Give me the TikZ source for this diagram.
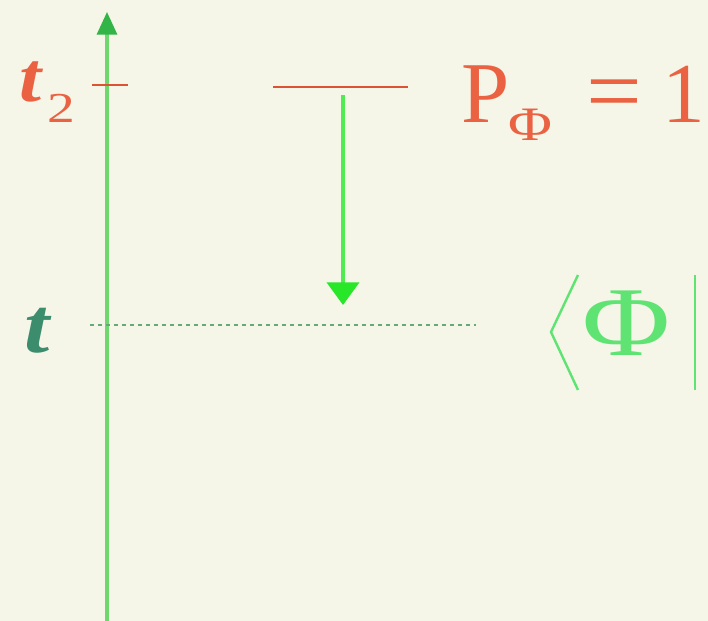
\documentclass[tikz,border=0pt]{standalone}
\usepackage{fontspec}
\setmainfont{Liberation Serif}
\usetikzlibrary{arrows.meta}
\definecolor{bg}{RGB}{245,245,232}
\definecolor{axisgreen}{RGB}{110,215,110}
\definecolor{axishead}{RGB}{50,180,70}
\definecolor{arrgreen}{RGB}{80,235,80}
\definecolor{arrhead}{RGB}{40,230,40}
\definecolor{redtxt}{RGB}{234,98,66}
\definecolor{redline}{RGB}{222,82,52}
\definecolor{dashgreen}{RGB}{100,170,120}
\definecolor{tgreen}{RGB}{60,140,110}
\definecolor{bragreen}{RGB}{95,228,115}
\tikzset{
  lbl/.style={inner sep=0pt, outer sep=0pt, anchor=base west},
  axisline/.style={draw=axisgreen, line width=2.4pt},
  downarrow/.style={draw=arrgreen, line width=3pt},
  levelline/.style={draw=redline, line width=2.2pt},
  tickline/.style={draw=redline, line width=1.6pt},
  dashline/.style={draw=dashgreen, line width=1pt, dash pattern=on 3pt off 3pt},
  bracket/.style={draw=bragreen, line width=1.8pt},
}
\begin{document}
\begin{tikzpicture}[x=0.75pt,y=-0.75pt]
\fill[bg] (0,0) rectangle (708,621);
\useasboundingbox (0,0) rectangle (708,621);
% axis
\coordinate (axbot) at (107,621);
\coordinate (axtop) at (107,12);
\draw[axisline, -{Triangle[length=17pt,width=15pt,color=axishead]}] (axbot) -- (axtop);
% tick at t2
\coordinate (tickL) at (92,85);
\coordinate (tickR) at (128,85);
\draw[tickline] (tickL) -- (tickR);
% t2 label
\node[lbl, text=redtxt] (t2) at (20,101) {\scalebox{1.12}[1]{\fontsize{53}{53}\selectfont\bfseries\itshape t}};
\node[lbl, text=redtxt] (t2sub) at (47,122) {\scalebox{1.3}[1]{\fontsize{32}{32}\selectfont 2}};
% level line
\coordinate (levL) at (273,87);
\coordinate (levR) at (408,87);
\draw[levelline] (levL) -- (levR);
% down arrow
\coordinate (arrS) at (343,95);
\coordinate (arrE) at (343,305);
\draw[downarrow, -{Triangle[length=17pt,width=24pt,color=arrhead]}] (arrS) -- (arrE);
% dashed line at t
\coordinate (dashL) at (90,325);
\coordinate (dashR) at (476,325);
\draw[dashline] (dashL) -- (dashR);
% t label
\node[lbl, text=tgreen] (tlab) at (25,352) {\scalebox{1.15}[1]{\fontsize{59}{59}\selectfont\bfseries\itshape t}};
% P_Phi = 1
\node[lbl, text=redtxt] (pN) at (461,122) {\fontsize{65}{65}\selectfont P};
\node[lbl, text=redtxt] (phiSub) at (508,140) {\scalebox{1.25}[1]{\fontsize{36}{36}\selectfont Φ}};
\node[lbl, text=redtxt] (eqN) at (586,122) {\scalebox{1.06}[1]{\fontsize{70}{70}\selectfont =}};
\node[lbl, text=redtxt] (oneN) at (662,122) {\fontsize{64}{64}\selectfont 1};
% bra
\coordinate (braT) at (578,275);
\coordinate (braM) at (551,332);
\coordinate (braB) at (578,390);
\draw[bracket] (braT) -- (braM) -- (braB);
\node[lbl, text=bragreen] (phiBig) at (582,355) {\scalebox{1.22}[1]{\fontsize{74}{74}\selectfont Φ}};
\coordinate (barT) at (695,275);
\coordinate (barB) at (695,390);
\draw[bracket] (barT) -- (barB);
\end{tikzpicture}
\end{document}
